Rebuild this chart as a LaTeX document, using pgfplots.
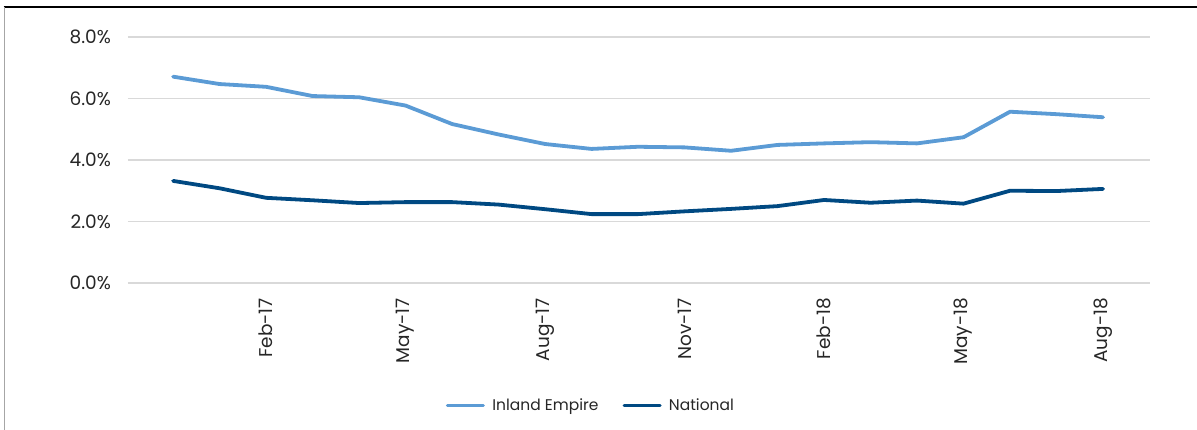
\documentclass[border=0pt]{standalone}
\usepackage{fontspec}
\setmainfont{Poppins}
\usepackage{pgfplots}
\pgfplotsset{compat=1.18}

\definecolor{ieblue}{RGB}{91,155,213}
\definecolor{natblue}{RGB}{0,73,130}
\definecolor{gridgray}{RGB}{217,217,217}
\definecolor{labelgray}{RGB}{38,38,38}

% Monthly rates, Dec-16 (0) to Aug-18 (20)
\pgfplotstableread{
idx  inland  national
0    6.71    3.32
1    6.47    3.08
2    6.38    2.77
3    6.08    2.69
4    6.04    2.60
5    5.77    2.63
6    5.17    2.63
7    4.83    2.55
8    4.52    2.40
9    4.36    2.24
10   4.43    2.24
11   4.41    2.33
12   4.30    2.41
13   4.49    2.50
14   4.54    2.70
15   4.58    2.61
16   4.54    2.68
17   4.74    2.58
18   5.57    3.00
19   5.49    2.99
20   5.39    3.06
}\ratetable

\begin{document}
\fontsize{16}{19}\selectfont
\begin{tikzpicture}
\path[use as bounding box] (0pt,0pt) rectangle (1197pt,430pt);
% frame
\draw[black, line width=1.2pt] (3.5pt,423pt) -- (1197pt,423pt);
\draw[gray!70, line width=1.6pt] (4.3pt,0pt) -- (4.3pt,423pt);

\begin{axis}[
  at={(128pt,147pt)}, anchor=south west,
  scale only axis, width=1022pt, height=246pt,
  xmin=-0.97, xmax=21.01,
  ymin=0, ymax=8,
  axis line style={draw=none},
  major tick length=0pt,
  ymajorgrids,
  major grid style={draw=gridgray, line width=1.2pt},
  ytick={0,2,4,6,8},
  yticklabels={0.0\%,2.0\%,4.0\%,6.0\%,8.0\%},
  xtick={2,5,8,11,14,17,20},
  xticklabels={Feb-17,May-17,Aug-17,Nov-17,Feb-18,May-18,Aug-18},
  yticklabel style={anchor=east, inner sep=0pt, text=labelgray, font=\fontsize{18.5}{21}\selectfont},
  xticklabel style={rotate=90, anchor=east, inner sep=0pt, text=labelgray, font=\fontsize{18.5}{21}\selectfont},
  yticklabel shift=17pt,
  xticklabel shift=15pt,
  clip=false,
  legend columns=2,
  legend style={at={(0.452,-0.499)}, anchor=center, draw=none, fill=none,
    font=\fontsize{15.5}{18}\selectfont, text=labelgray,
    nodes={inner sep=0pt, anchor=west},
    /tikz/every even column/.append style={column sep=24pt}},
  legend image code/.code={\draw[#1, line width=3pt] (0pt,0pt) -- (36pt,0pt); \path (43pt,0pt);},
]
\addplot[ieblue, line width=3.8pt, line join=round, line cap=round] table[x=idx, y=inland] {\ratetable};
\addlegendentry{Inland Empire}
\addplot[natblue, line width=3.8pt, line join=round, line cap=round] table[x=idx, y=national] {\ratetable};
\addlegendentry{National}
\end{axis}
\end{tikzpicture}
\end{document}
